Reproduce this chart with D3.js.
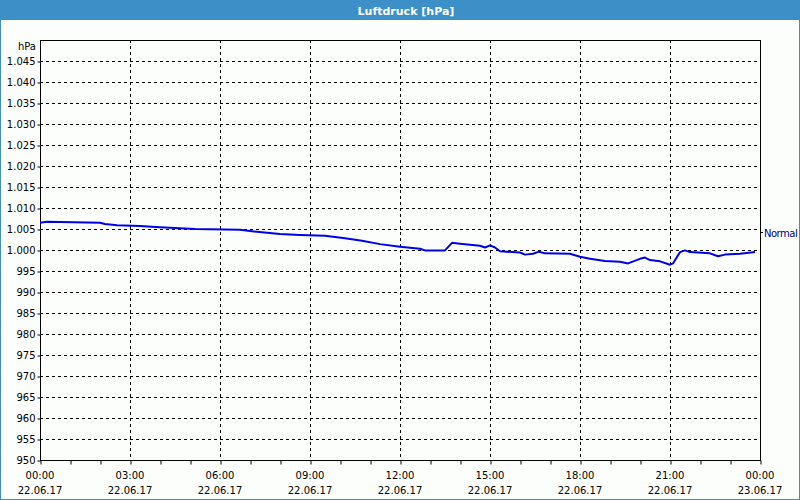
<!DOCTYPE html>
<html><head><meta charset="utf-8">
<script src="https://cdn.jsdelivr.net/npm/d3@7/dist/d3.min.js"></script>
<style>html,body{margin:0;padding:0;background:#fff;}svg{display:block;}</style>
</head><body>
<svg id="c" width="800" height="500"></svg>
<script>
const title = "Luftdruck [hPa]";
const unitLabel = "hPa";
const normalLabel = "Normal";
const normalValue = 1004.3;
const times = ["00:00","00:14","02:00","02:10","02:34","03:20","04:00","05:10","06:40","07:24","08:00","08:40","09:30","10:10","10:44","11:20","12:00","12:40","12:50","13:30","13:44","14:00","14:40","14:50","15:00","15:10","15:20","16:00","16:10","16:26","16:38","16:50","17:40","18:00","18:20","18:50","19:20","19:36","20:00","20:10","20:20","20:40","21:00","21:06","21:20","21:30","21:40","22:20","22:36","22:50","23:20","23:50"];
const pressure = [1006.5,1006.7,1006.5,1006.2,1005.9,1005.7,1005.4,1005.0,1004.8,1004.2,1003.8,1003.6,1003.4,1002.8,1002.2,1001.4,1000.8,1000.3,999.9,999.9,1001.7,1001.5,1001.0,1000.6,1001.1,1000.6,999.7,999.4,998.9,999.1,999.6,999.2,999.1,998.4,997.9,997.4,997.2,996.8,997.9,998.2,997.6,997.3,996.5,996.8,999.5,999.9,999.5,999.2,998.5,998.9,999.1,999.5];
const yTicks = [950,955,960,965,970,975,980,985,990,995,1000,1005,1010,1015,1020,1025,1030,1035,1040,1045];
const xTickHours = [0,3,6,9,12,15,18,21,24];
const xTickTimes = ["00:00","03:00","06:00","09:00","12:00","15:00","18:00","21:00","00:00"];
const xTickDates = ["22.06.17","22.06.17","22.06.17","22.06.17","22.06.17","22.06.17","22.06.17","22.06.17","23.06.17"];

const svg = d3.select("#c");
const W = 800, H = 500;
const L = 40, R = 760, T = 40, B = 460;
const font = "'DejaVu Sans', sans-serif";

svg.append("rect").attr("x",0).attr("y",0).attr("width",W).attr("height",H).attr("fill","#fcfefc");
svg.append("rect").attr("x",0.5).attr("y",0.5).attr("width",W-1).attr("height",H-1).attr("fill","none").attr("stroke","#3c8fc7");
svg.append("rect").attr("x",0).attr("y",0).attr("width",W).attr("height",20).attr("fill","#3c8fc7");
svg.append("text").attr("x",406).attr("y",14.5).attr("text-anchor","middle")
  .attr("font-family",font).attr("font-size","11px").attr("font-weight","bold").attr("fill","#fff").text(title);

const x = d3.scaleLinear().domain([0,24]).range([L,R]);
const y = d3.scaleLinear().domain([950,1050]).range([B,T]);
const toH = s => { const [h,m] = s.split(":").map(Number); return h + m/60; };

// grid
const g = svg.append("g");
g.selectAll(".hg").data(yTicks.filter(v=>v>950)).join("line")
  .attr("x1",L).attr("x2",R).attr("y1",d=>Math.round(y(d))+0.5).attr("y2",d=>Math.round(y(d))+0.5)
  .attr("stroke","#000").attr("stroke-dasharray","3,3");
g.selectAll(".vg").data(xTickHours.filter(h=>h>0&&h<24)).join("line")
  .attr("x1",d=>Math.round(x(d))+0.5).attr("x2",d=>Math.round(x(d))+0.5).attr("y1",T).attr("y2",B)
  .attr("stroke","#000").attr("stroke-dasharray","3,3");

// axes
const yAxis = d3.axisLeft(y).tickValues(yTicks).tickSize(3).tickPadding(2)
  .tickFormat(d => d >= 1000 ? (d/1000).toFixed(3) : String(d));
const ya = svg.append("g").attr("transform",`translate(${L+0.5},0.5)`).call(yAxis);
ya.select(".domain").remove();
ya.selectAll("text").attr("font-family",font).attr("font-size","10px").attr("fill","#000");
ya.selectAll("line").attr("stroke","#000");

const hours = d3.range(0,25);
const xAxis = d3.axisBottom(x).tickValues(hours).tickSize(4).tickFormat("");
const xa = svg.append("g").attr("transform",`translate(0.5,${B+0.5})`).call(xAxis);
xa.select(".domain").remove();
xa.selectAll("line").attr("stroke","#000");

const xl = svg.append("g");
xl.selectAll(".t1").data(xTickHours).join("text")
  .attr("x",d=>x(d)).attr("y",479).attr("text-anchor","middle")
  .attr("font-family",font).attr("font-size","10px").attr("fill","#000")
  .text((d,i)=>xTickTimes[i]);
xl.selectAll(".t2").data(xTickHours).join("text")
  .attr("x",d=>x(d)).attr("y",494).attr("text-anchor","middle")
  .attr("font-family",font).attr("font-size","10px").attr("fill","#000")
  .text((d,i)=>xTickDates[i]);

svg.append("text").attr("x",36).attr("y",50).attr("text-anchor","end")
  .attr("font-family",font).attr("font-size","10px").attr("fill","#000").text(unitLabel);

// frame
svg.append("rect").attr("x",L+0.5).attr("y",T+0.5).attr("width",R-L).attr("height",B-T)
  .attr("fill","none").attr("stroke","#000");

// normal marker
const ny = Math.round(y(normalValue))+0.5;
svg.append("line").attr("x1",R).attr("x2",R+3).attr("y1",ny).attr("y2",ny).attr("stroke","#000");
svg.append("text").attr("x",R+4).attr("y",ny+4).attr("font-family",font).attr("font-size","10px")
  .attr("letter-spacing","-0.5").attr("fill","#000080").text(normalLabel);

// line
const data = times.map((t,i)=>({h:toH(t), v:pressure[i]}));
svg.append("path").datum(data)
  .attr("d", d3.line().x(d=>x(d.h)).y(d=>y(d.v)))
  .attr("fill","none").attr("stroke","#0000e6").attr("stroke-width",2).attr("stroke-linejoin","round");
</script>
</body></html>
